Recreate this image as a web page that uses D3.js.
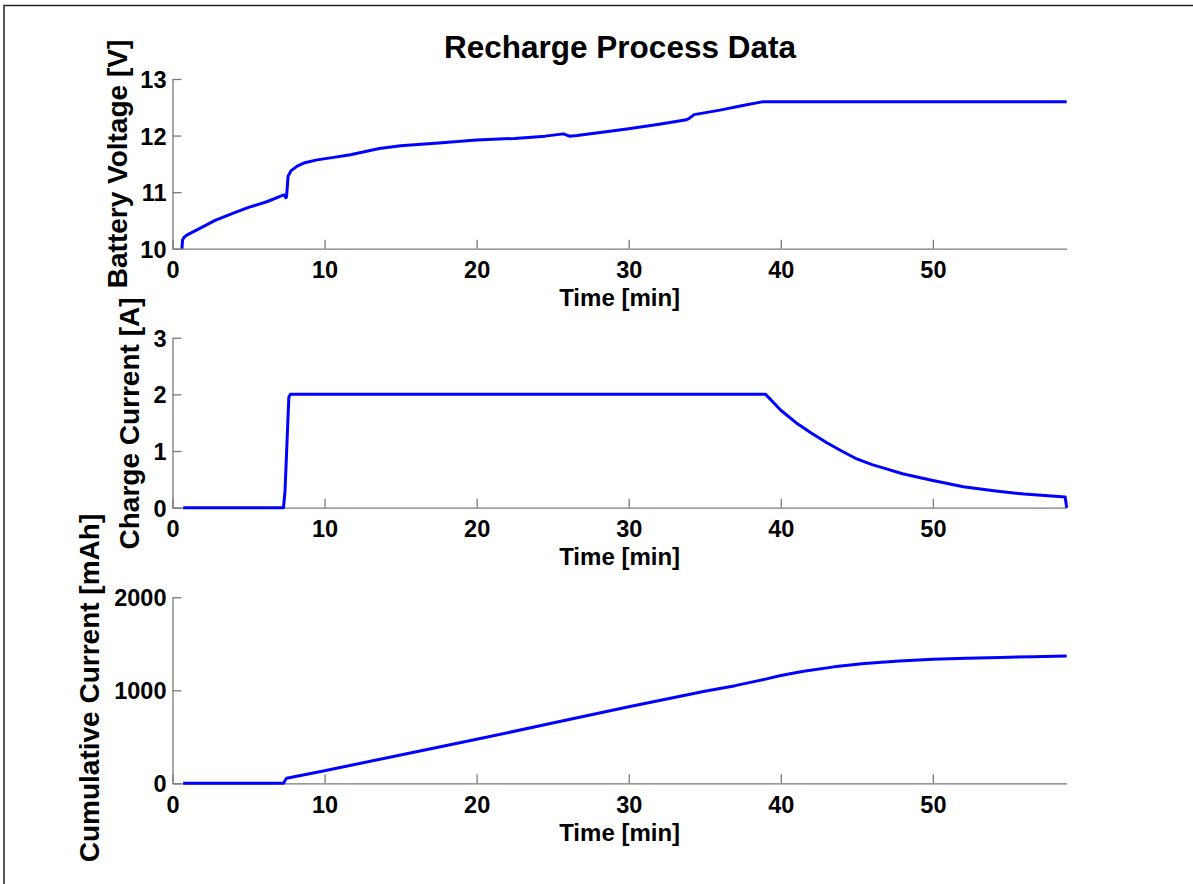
<!DOCTYPE html>
<html>
<head>
<meta charset="utf-8">
<script src="https://cdn.jsdelivr.net/npm/d3@7"></script>
<style>
  body { margin: 0; background: #fff; }
  svg { display: block; }
  text { font-family: "Liberation Sans", Arial, sans-serif; font-weight: bold; fill: #000; }
  .axis path, .axis line { stroke: #7a7a7a; stroke-width: 1.3; }
  .axis text { font-size: 23.5px; }
  .xLabel { font-size: 24px; }
  .yLabel { font-size: 28px; }
</style>
</head>
<body>
<div class="chart"></div>
<script>
// data
var voltTime = [0.62, 0.66, 0.75, 1.0, 1.8, 2.8, 4.0, 5.0, 6.2, 7.2, 7.35, 7.45, 7.5, 7.6, 7.8, 8.2, 8.7, 9.5, 10.5, 11.7, 13.6, 15.0, 17.5, 20.0, 22.5, 24.5, 25.7, 26.1, 26.6, 28.0, 30.0, 32.0, 33.8, 33.95, 34.3, 36.0, 37.5, 38.85, 45, 50, 55, 58.8];
var voltage = [10.0, 10.15, 10.2, 10.25, 10.36, 10.5, 10.63, 10.73, 10.83, 10.94, 10.95, 10.9, 10.92, 11.28, 11.38, 11.46, 11.52, 11.57, 11.61, 11.66, 11.77, 11.82, 11.87, 11.92, 11.95, 11.99, 12.03, 11.99, 12.0, 12.05, 12.12, 12.2, 12.28, 12.3, 12.37, 12.45, 12.53, 12.6, 12.6, 12.6, 12.6, 12.6];

var currTime = [0.7, 7.3, 7.4, 7.65, 7.75, 39.0, 39.5, 40.0, 41.0, 42.0, 43.0, 44.0, 45.0, 46.0, 47.0, 48.0, 50.0, 52.0, 54.0, 56.0, 58.7, 58.8];
var current = [0, 0, 0.3, 1.95, 2.0, 2.0, 1.86, 1.72, 1.5, 1.32, 1.15, 1.0, 0.86, 0.76, 0.68, 0.6, 0.48, 0.37, 0.3, 0.24, 0.19, 0];

var cumTime = [0.7, 7.3, 7.4, 7.5, 10, 15, 20, 25, 30, 35, 37, 38, 39, 40, 41.5, 43.5, 45.5, 47.8, 50, 52.2, 54.4, 56.6, 58.8];
var cumulative = [0, 0, 30, 54, 135, 305, 473, 648, 824, 990, 1050, 1085, 1120, 1160, 1205, 1252, 1288, 1316, 1333, 1345, 1354, 1361, 1368];

var xTicks = [0, 10, 20, 30, 40, 50];
var voltTicks = [10, 11, 12, 13];
var currTicks = [0, 1, 2, 3];
var cumTicks = [0, 1000, 2000];

var svgWidth = 1193;
var svgHeight = 884;

var svg = d3.select(".chart")
  .append("svg")
  .attr("width", svgWidth)
  .attr("height", svgHeight);

// frame lines on the left and top edge
svg.append("path")
  .attr("d", "M4," + svgHeight + "V5.5H" + svgWidth)
  .attr("fill", "none")
  .attr("stroke", "#222")
  .attr("stroke-width", 1.5);

var xLeft = 172.5, xRight = 1066.7;

var xScale = d3.scaleLinear()
  .domain([0, 58.8])
  .range([xLeft, xRight]);

// one entry per subplot
var panels = [
  { t: voltTime, v: voltage, domain: [10, 13], ticks: voltTicks, top: 79, bottom: 248.7,
    label: "Battery Voltage [V]", labelX: 117, labelY: 164 },
  { t: currTime, v: current, domain: [0, 3], ticks: currTicks, top: 337.7, bottom: 507.7,
    label: "Charge Current [A]", labelX: 129, labelY: 423.5 },
  { t: cumTime, v: cumulative, domain: [0, 2000], ticks: cumTicks, top: 597.3, bottom: 783.3,
    label: "Cumulative Current [mAh]", labelX: 89, labelY: 688 }
];

panels.forEach(function(p) {
  var yScale = d3.scaleLinear()
    .domain(p.domain)
    .range([p.bottom, p.top]);

  var g = svg.append("g");

  var bottomAxis = d3.axisBottom(xScale)
    .tickValues(xTicks)
    .tickSizeInner(-9)
    .tickSizeOuter(0)
    .tickFormat(d3.format("d"));

  var leftAxis = d3.axisLeft(yScale)
    .tickValues(p.ticks)
    .tickSizeInner(-9)
    .tickSizeOuter(0)
    .tickFormat(d3.format("d"));

  var xAxisG = g.append("g")
    .attr("class", "axis")
    .attr("transform", `translate(0, ${p.bottom})`)
    .call(bottomAxis);
  xAxisG.selectAll("text").attr("y", 21).attr("dy", "0.35em");

  var yAxisG = g.append("g")
    .attr("class", "axis")
    .attr("transform", `translate(${xLeft}, 0)`)
    .call(leftAxis);
  yAxisG.selectAll("text").attr("x", -6).attr("dy", "0.36em");

  g.selectAll(".axis text").attr("fill", "#000");
  g.selectAll(".axis .domain").attr("stroke", "#7a7a7a");

  var line = d3.line()
    .x((d, i) => xScale(p.t[i]))
    .y(d => yScale(d));

  g.append("path")
    .datum(p.v)
    .attr("d", line)
    .attr("fill", "none")
    .attr("stroke", "#0000ff")
    .attr("stroke-width", 3)
    .attr("stroke-linejoin", "round");

  // x axis label
  g.append("text")
    .attr("class", "xLabel")
    .attr("x", (xLeft + xRight) / 2)
    .attr("y", p.bottom + 49)
    .attr("dy", "0.35em")
    .attr("text-anchor", "middle")
    .text("Time [min]");

  // y axis label
  g.append("text")
    .attr("class", "yLabel")
    .attr("transform", `translate(${p.labelX}, ${p.labelY}) rotate(-90)`)
    .attr("dy", "0.36em")
    .attr("text-anchor", "middle")
    .text(p.label);
});

svg.append("text")
  .attr("x", 620)
  .attr("y", 47)
  .attr("dy", "0.35em")
  .attr("text-anchor", "middle")
  .style("font-size", "31.5px")
  .text("Recharge Process Data");
</script>
</body>
</html>
